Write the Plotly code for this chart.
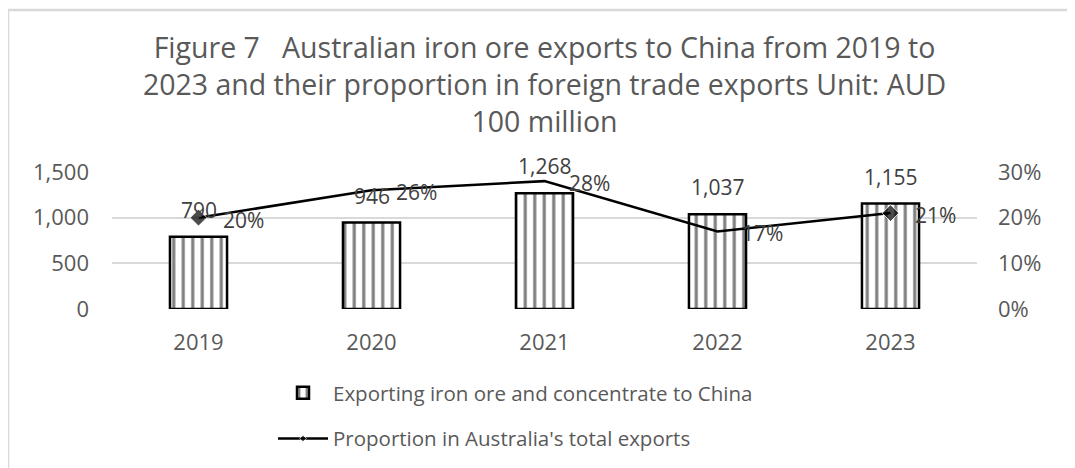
import plotly.graph_objects as go

years = ["2019", "2020", "2021", "2022", "2023"]
exports_value = [790, 946, 1268, 1037, 1155]
proportion = [0.20, 0.26, 0.28, 0.17, 0.21]
value_labels = ["790", "946", "1,268", "1,037", "1,155"]
pct_labels = ["20%", "26%", "28%", "17%", "21%"]
left_ticks = [0, 500, 1000, 1500]
left_tick_text = ["0", "500", "1,000", "1,500"]
right_ticks = [0, 0.1, 0.2, 0.3]
right_tick_text = ["0%", "10%", "20%", "30%"]

FONT = "Open Sans"
GRAY = "#595959"
DARK = "#404040"

W, H = 1075, 468
OFF = 8  # page body margin
L, R, T, B = 112 - OFF, 1075 - (977 - OFF), 172 - OFF, 468 - (309 - OFF)
pw, ph = W - L - R, H - T - B

fig = go.Figure()
fig.add_trace(go.Bar(
    x=years, y=exports_value, width=0.33,
    name="Exporting iron ore and concentrate to China",
    legendgroup="a",
    marker=dict(color="white", line=dict(color="black", width=2.5),
                pattern=dict(shape="|", fgcolor="black", bgcolor="white",
                             size=9.5, solidity=0.33, fillmode="overlay")),
    yaxis="y",
))
fig.add_trace(go.Scatter(
    x=years, y=proportion, mode="lines+markers",
    name="Proportion in Australia's total exports",
    legendgroup="b",
    line=dict(color="black", width=2.5),
    marker=dict(symbol="diamond", color="black", size=[13, 0, 0, 0, 13]),
    yaxis="y2",
))

annotations = []
for i, (v, t) in enumerate(zip(exports_value, value_labels)):
    annotations.append(dict(x=i, y=v, xref="x", yref="y", text=t, showarrow=False,
                            yshift=27, font=dict(family=FONT, size=21, color=DARK)))
for i, (p, t) in enumerate(zip(proportion, pct_labels)):
    annotations.append(dict(x=i, y=p, xref="x", yref="y2", text=t, showarrow=False,
                            xanchor="left", xshift=22, yshift=-2,
                            font=dict(family=FONT, size=21, color=DARK)))

def px_x(px):
    return (px - OFF - L) / pw

def px_y(py):
    return (H - B - (py - OFF)) / ph

fig.update_layout(
    width=W, height=H,
    margin=dict(l=L, r=R, t=T, b=B, autoexpand=False),
    paper_bgcolor="white", plot_bgcolor="white",
    title=dict(text="Figure 7   Australian iron ore exports to China from 2019 to<br>2023 and their proportion in foreign trade exports Unit: AUD<br>100 million",
               x=0.5, xref="paper", xanchor="center", y=1 - 50 / H, yanchor="middle",
               font=dict(family=FONT, size=28.5, color=GRAY)),
    xaxis=dict(type="category", range=[-0.5, 4.5], showgrid=False, showline=False, ticks="",
               tickfont=dict(family=FONT, size=22, color=GRAY), ticklabelstandoff=18),
    yaxis=dict(range=[0, 1500], tickvals=left_ticks, ticktext=left_tick_text,
               showgrid=True, gridcolor="#d9d9d9", gridwidth=2, zeroline=False, showline=False,
               tickfont=dict(family=FONT, size=22, color=GRAY), ticklabelstandoff=22),
    yaxis2=dict(range=[0, 0.3], tickvals=right_ticks, ticktext=right_tick_text, overlaying="y",
                side="right", showgrid=False, zeroline=False, showline=False,
                tickfont=dict(family=FONT, size=22, color=GRAY), ticklabelstandoff=20),
    legend=dict(orientation="v", x=px_x(273), xanchor="left", y=px_y(373), yanchor="top",
                font=dict(family=FONT, size=20.5, color=GRAY), tracegroupgap=16,
                bgcolor="rgba(0,0,0,0)", itemwidth=50),
    annotations=annotations,
    shapes=[dict(type="rect", xref="paper", yref="paper",
                 x0=px_x(8), x1=px_x(1095), y0=px_y(10), y1=px_y(490),
                 line=dict(color="#d9d9d9", width=2.5), fillcolor="rgba(0,0,0,0)", layer="below")],
)

fig.write_html("out.html")
